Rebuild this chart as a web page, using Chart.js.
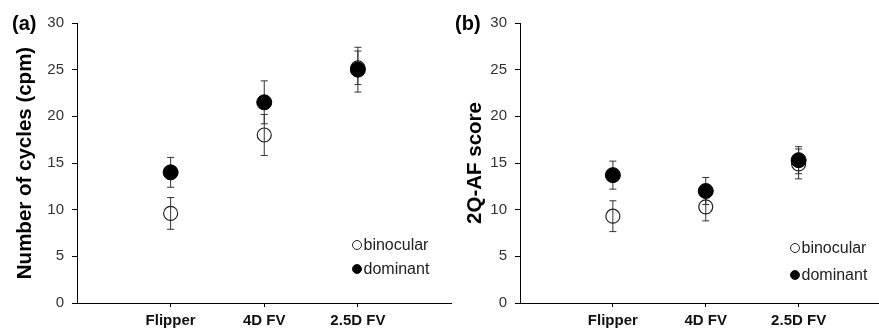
<!DOCTYPE html>
<html>
<head>
<meta charset="utf-8">
<script src="https://cdn.jsdelivr.net/npm/chart.js@4/dist/chart.umd.min.js"></script>
<style>
  html, body { margin: 0; padding: 0; background: #fff; overflow: hidden; }
  body { width: 879px; height: 329px; position: relative; font-family: "Liberation Sans", Arial, sans-serif; }
  canvas { position: absolute; top: 0; }
  #chart-a { left: 0; }
  #chart-b { left: 440px; }
  .panel-tag { position: absolute; top: 11px; font-weight: bold; font-size: 20px; line-height: 24px; color: #000; }
</style>
</head>
<body>
<canvas id="chart-a" width="460" height="329"></canvas>
<canvas id="chart-b" width="460" height="329"></canvas>
<div class="panel-tag" style="left:12px">(a)</div>
<div class="panel-tag" style="left:455px">(b)</div>
<script>
const categories = ['Flipper', '4D FV', '2.5D FV'];
const yTicks = [0, 5, 10, 15, 20, 25, 30];

// (a) number of cycles (cpm)
const cyclesBinocular = [9.6, 18.0, 25.2];
const cyclesBinocularErr = [1.7, 2.2, 1.8];
const cyclesDominant = [14.0, 21.5, 25.0];
const cyclesDominantErr = [1.6, 2.3, 2.4];

// (b) 2Q-AF score
const scoreBinocular = [9.3, 10.3, 14.9];
const scoreBinocularErr = [1.65, 1.5, 1.6];
const scoreDominant = [13.7, 12.0, 15.3];
const scoreDominantErr = [1.5, 1.45, 1.45];

const FONT = '"Liberation Sans", Arial, sans-serif';

const errorBars = {
  id: 'errorBars',
  beforeDatasetsDraw(chart) {
    const { ctx, scales: { x, y } } = chart;
    ctx.save();
    ctx.strokeStyle = '#333';
    ctx.lineWidth = 1;
    chart.data.datasets.forEach(ds => {
      if (!ds.errors) return;
      ds.data.forEach((pt, j) => {
        const px = x.getPixelForValue(pt.x);
        const top = y.getPixelForValue(pt.y + ds.errors[j]);
        const bot = y.getPixelForValue(pt.y - ds.errors[j]);
        ctx.beginPath();
        ctx.moveTo(px, top); ctx.lineTo(px, bot);
        ctx.moveTo(px - 3.5, top); ctx.lineTo(px + 3.5, top);
        ctx.moveTo(px - 3.5, bot); ctx.lineTo(px + 3.5, bot);
        ctx.stroke();
      });
    });
    ctx.restore();
  }
};

const cornerLegend = {
  id: 'cornerLegend',
  afterDraw(chart, args, opts) {
    const { ctx, chartArea } = chart;
    const cx = chartArea.left + opts.dx;
    ctx.save();
    ctx.font = '16px ' + FONT;
    ctx.textBaseline = 'middle';
    chart.data.datasets.forEach((ds, i) => {
      const cy = chartArea.bottom - opts.dy[i];
      ctx.beginPath();
      ctx.arc(cx, cy, 4.5, 0, Math.PI * 2);
      ctx.lineWidth = 1;
      ctx.strokeStyle = '#222';
      ctx.stroke();
      if (ds.filled) { ctx.fillStyle = '#000'; ctx.fill(); }
      ctx.fillStyle = '#222';
      ctx.fillText(ds.label, cx + 6.5, cy + 1);
    });
    ctx.restore();
  }
};

function points(values) {
  return values.map((v, i) => ({ x: i + 1, y: v }));
}

function makeChart(id, opts) {
  return new Chart(document.getElementById(id), {
    type: 'scatter',
    data: {
      datasets: [
        {
          label: 'binocular',
          data: points(opts.binocular),
          errors: opts.binocularErr,
          order: 2,
          pointRadius: 7,
          pointHoverRadius: 7,
          pointBorderWidth: 1.2,
          pointBorderColor: '#222',
          pointBackgroundColor: 'rgba(255,255,255,0)'
        },
        {
          label: 'dominant',
          filled: true,
          data: points(opts.dominant),
          errors: opts.dominantErr,
          order: 1,
          pointRadius: 7.5,
          pointHoverRadius: 7.5,
          pointBorderWidth: 1,
          pointBorderColor: '#000',
          pointBackgroundColor: '#000'
        }
      ]
    },
    options: {
      responsive: false,
      animation: false,
      devicePixelRatio: 1,
      layout: { padding: { top: 23, right: 6, left: 0, bottom: 0 } },
      plugins: {
        legend: { display: false },
        tooltip: { enabled: false },
        cornerLegend: opts.legend
      },
      scales: {
        x: {
          type: 'linear',
          min: 0,
          max: 4,
          afterBuildTicks: s => { s.ticks = categories.map((c, i) => ({ value: i + 1 })); },
          afterFit: s => { s.height = 26; },
          border: { color: '#000', width: 1 },
          grid: { drawOnChartArea: false, drawTicks: true, tickLength: 4, color: '#000' },
          ticks: {
            padding: 5,
            color: '#111',
            font: { family: FONT, size: 15, weight: 'bold' },
            callback: v => categories[v - 1]
          }
        },
        y: {
          min: 0,
          max: 30,
          afterBuildTicks: s => { s.ticks = yTicks.map(v => ({ value: v })); },
          afterFit: s => { s.width = opts.axisWidth; },
          border: { color: '#000', width: 1 },
          grid: { drawOnChartArea: false, drawTicks: true, tickLength: 5, color: '#000' },
          ticks: {
            padding: opts.tickPad,
            color: '#333',
            font: { family: FONT, size: 15 }
          },
          title: {
            display: true,
            text: opts.title,
            color: '#000',
            font: { family: FONT, size: 20.5, weight: 'bold' },
            padding: { top: opts.titlePad, bottom: 0 }
          }
        }
      }
    },
    plugins: [errorBars, cornerLegend]
  });
}

makeChart('chart-a', {
  binocular: cyclesBinocular, binocularErr: cyclesBinocularErr,
  dominant: cyclesDominant, dominantErr: cyclesDominantErr,
  title: 'Number of cycles (cpm)',
  axisWidth: 77, tickPad: 8, titlePad: 13,
  legend: { dx: 280, dy: [58, 34] }
});

makeChart('chart-b', {
  binocular: scoreBinocular, binocularErr: scoreBinocularErr,
  dominant: scoreDominant, dominantErr: scoreDominantErr,
  title: '2Q-AF score',
  axisWidth: 80, tickPad: 8, titlePad: 23,
  legend: { dx: 275, dy: [55, 28] }
});
</script>
</body>
</html>
